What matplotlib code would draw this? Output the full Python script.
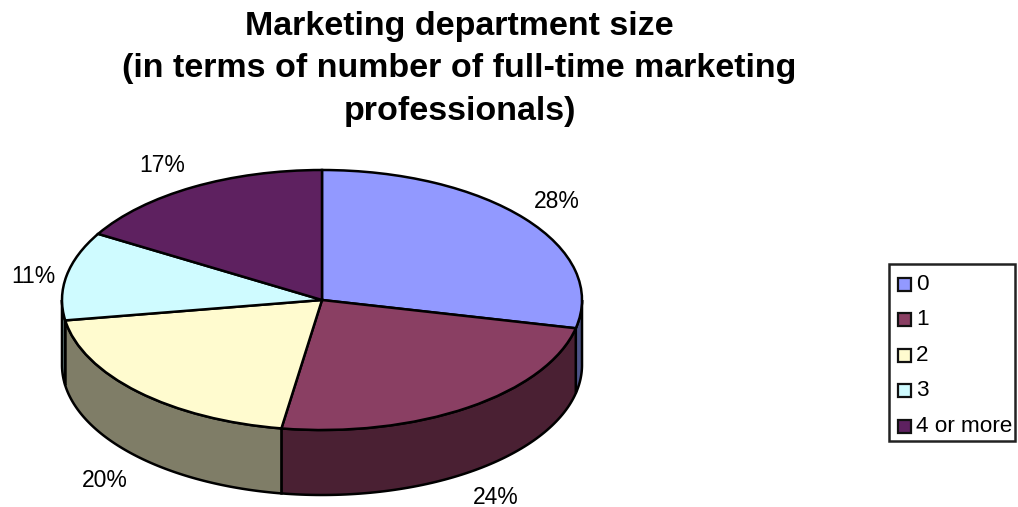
import numpy as np
import matplotlib
matplotlib.use('Agg')
import matplotlib.pyplot as plt
from matplotlib.patches import Rectangle

plt.rcParams['font.family'] = ['Liberation Sans', 'DejaVu Sans']

title = 'Marketing department size\n(in terms of number of full-time marketing\nprofessionals)'
categories = ['0', '1', '2', '3', '4 or more']
values = [28.49, 24.01, 20.0, 11.0, 16.51]
top_colors = ['#9299FF', '#8A3F63', '#FFFBCF', '#CFFBFF', '#5E2160']
side_colors = ['#4D5388', '#4A2033', '#7F7D67', '#67807F', '#30103A']

W, H = 1018, 507
fig = plt.figure(figsize=(W / 100, H / 100), dpi=100)

# pie top spans x 62-582 and y 170-430 px, the wall hangs 65 px below it
depth = 0.5
ax = fig.add_axes([62 / W, (H - 495) / H, 520 / W, 325 / H])

wedges, _ = ax.pie(values, colors=top_colors, startangle=90, counterclock=False,
                   wedgeprops={'edgecolor': 'black', 'linewidth': 1.8, 'zorder': 3})
ax.set_aspect('auto')
ax.set_xlim(-1, 1)
ax.set_ylim(-1 - depth, 1)
ax.axis('off')
for w in wedges:
    w.set_clip_on(False)

# side wall, only the front part of the rim (angles from 12 o'clock, clockwise)
edges = np.cumsum([0] + values) / sum(values) * 2 * np.pi
for start, end, col in zip(edges[:-1], edges[1:], side_colors):
    a0, a1 = max(start, np.pi / 2), min(end, 3 * np.pi / 2)
    if a1 <= a0:
        continue
    t = np.linspace(a0, a1, 80)
    x = np.sin(t)
    y = np.cos(t)
    ax.fill(np.r_[x, x[::-1]], np.r_[y, y[::-1] - depth], facecolor=col,
            edgecolor='black', linewidth=1.8, zorder=2, clip_on=False)

# percent labels outside the rim, each one has its own distance in the original
label_rx = [1.16, 1.19, 1.18, 1.13, 1.24]
label_ry = [1.21, 1.23, 1.26, 0.98, 1.19]
mids = (edges[:-1] + edges[1:]) / 2
for v, m, rx, ry in zip(values, mids, label_rx, label_ry):
    lx = rx * np.sin(m)
    ly = ry * np.cos(m)
    if np.cos(m) < 0:
        ly -= depth
    ax.text(lx, ly, '%.0f%%' % v, fontsize=16.5, ha='center', va='center', clip_on=False)

fig.text(459.5 / W, 1 - 69 / H, title, fontsize=24.5, fontweight='bold', ha='center',
         va='center', linespacing=1.47)

# legend box
fig.add_artist(Rectangle((889 / W, 1 - 441 / H), 126 / W, 177 / H, transform=fig.transFigure,
                         facecolor='white', edgecolor='#222222', linewidth=1.8))
for i, (c, col) in enumerate(zip(categories, top_colors)):
    yc = 284 + i * 35.6
    fig.add_artist(Rectangle((898 / W, 1 - (yc + 6.5) / H), 13 / W, 13 / H,
                             transform=fig.transFigure, facecolor=col,
                             edgecolor='#111111', linewidth=1.6))
    fig.text(916 / W, 1 - yc / H, c, fontsize=16.2, ha='left', va='center')

fig.savefig('out.png', dpi=100)
